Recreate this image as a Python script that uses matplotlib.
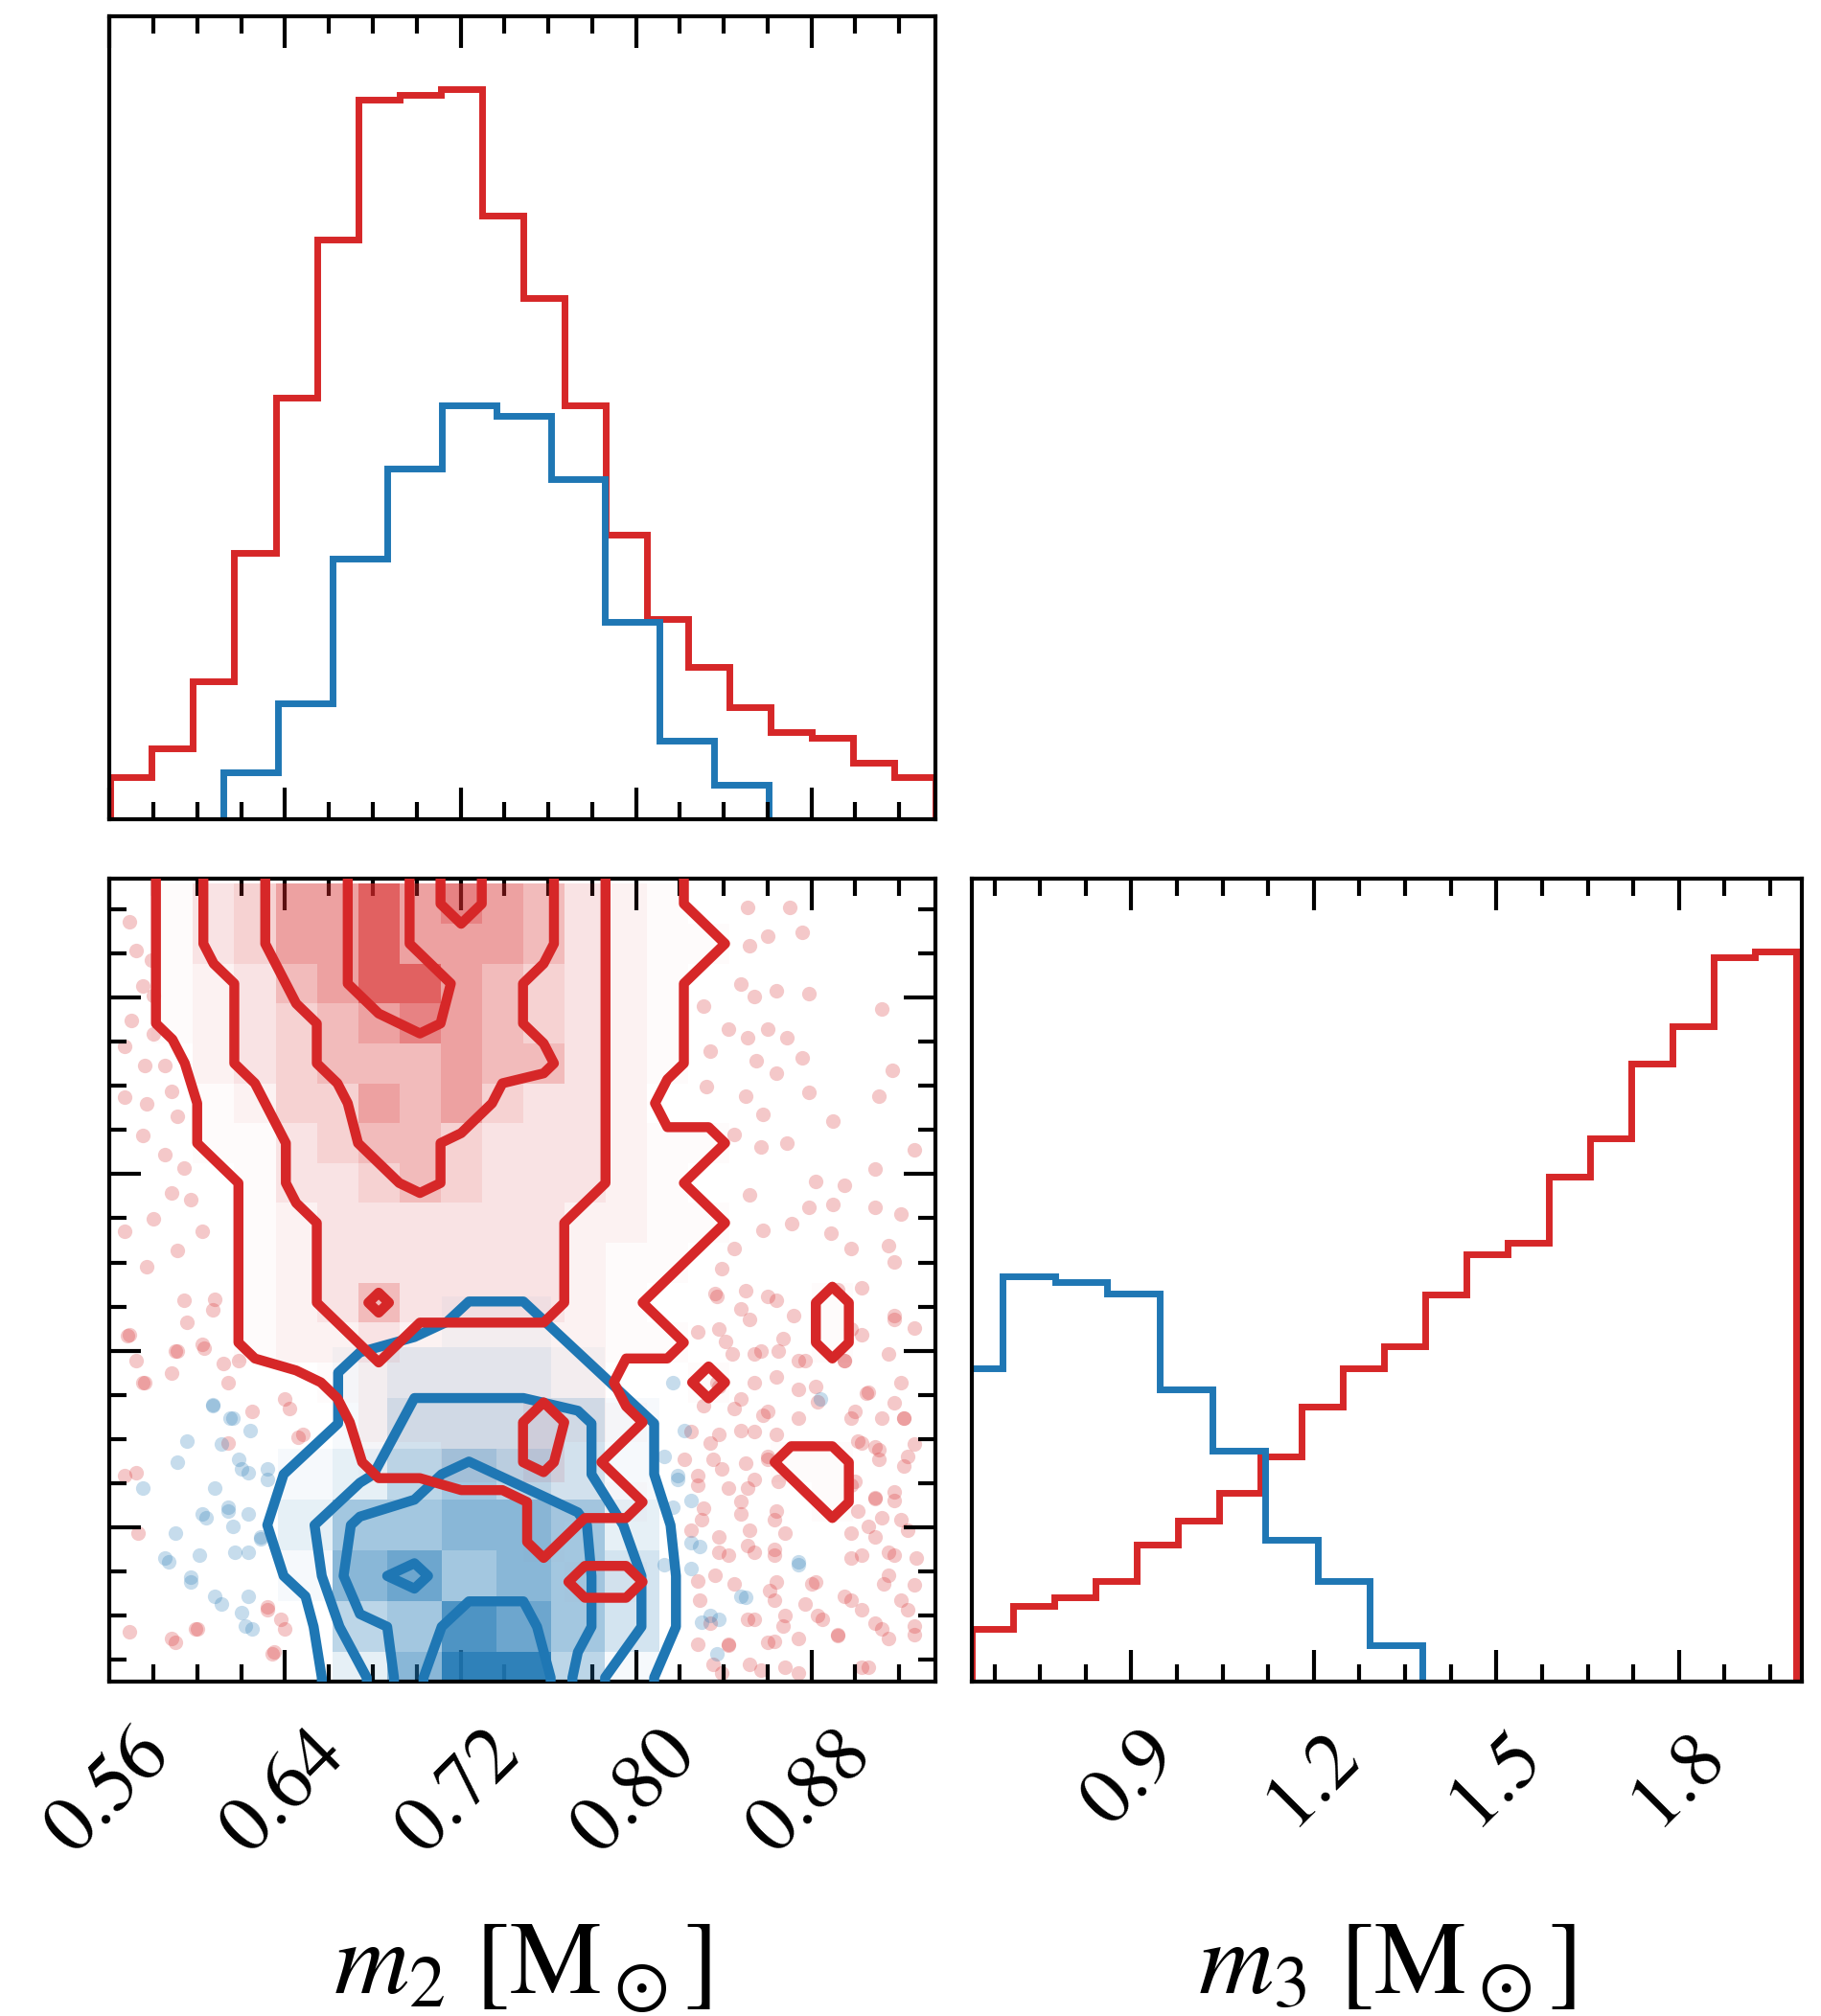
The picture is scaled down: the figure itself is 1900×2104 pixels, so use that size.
import numpy as np
import matplotlib
matplotlib.use("Agg")
import matplotlib.pyplot as plt
from matplotlib.colors import LinearSegmentedColormap, PowerNorm, to_rgb
from matplotlib.ticker import MultipleLocator, FormatStrFormatter

plt.rcParams["font.family"] = ["STIXGeneral", "DejaVu Serif"]
plt.rcParams["mathtext.fontset"] = "stix"

RED = "#d62728"
BLUE = "#1f77b4"

# axis ranges
m2_lim = (0.5598, 0.9366)
m3_lim = (0.638, 2.002)

# 1D marginals (step histograms)
m2_red_edges = np.linspace(0.5604, 0.9366, 21)
m2_red_counts = [80, 135, 262, 505, 800, 1100, 1365, 1375, 1385, 1145,
                 990, 785, 540, 380, 290, 212, 165, 155, 108, 80]
m2_blue_edges = np.linspace(0.612, 0.8605, 11)
m2_blue_counts = [90, 220, 495, 665, 785, 765, 645, 375, 150, 65]

m3_red_edges = np.linspace(0.638, 1.993, 21)
m3_red_counts = [100, 145, 160, 192, 262, 307, 360, 430, 525, 598,
                 640, 738, 815, 838, 963, 1037, 1180, 1250, 1383, 1393]
m3_blue_edges = np.linspace(0.6016, 1.3786, 10)
m3_blue_counts = [598, 773, 763, 740, 557, 440, 270, 192, 70]

# 2D histograms (rows listed from highest m3 bin down to lowest)
red_grid_rows = [
    "01346686765321000000",
    "01346686665321100000",
    "01235688654321000000",
    "01234567654321000000",
    "00234555655321000000",
    "00124465643320000000",
    "00113455433321100000",
    "00013345433321000000",
    "00012333333221100000",
    "00012333333211000000",
    "00012353333210000100",
    "00012232222211000100",
    "00000122222200100000",
    "00000022223210000000",
    "00000011223100001100",
    "00000000001110000100",
    "00000000001000000000",
    "00000000000110000000",
    "00000000000000000000",
    "00000000000000000000",
]
blue_grid_rows = [
    "0000000000",
    "0000110000",
    "0012221000",
    "0013333100",
    "0124543100",
    "0255665200",
    "0167565300",
    "0045875300",
    "0026994100",
]
contour_levels = [0.6, 2.5, 4.5, 6.5]

# individual samples outside the contours, (m2, m3)
red_samples = [
    # upper right
    (0.851, 1.953), (0.870, 1.953), (0.860, 1.904), (0.876, 1.910),
    (0.852, 1.888), (0.848, 1.823), (0.854, 1.801), (0.864, 1.812),
    (0.879, 1.807), (0.912, 1.780), (0.831, 1.785), (0.842, 1.747),
    (0.851, 1.731), (0.860, 1.747), (0.869, 1.731), (0.834, 1.709),
    (0.855, 1.693), (0.876, 1.698), (0.917, 1.676), (0.864, 1.671),
    (0.832, 1.649), (0.850, 1.633), (0.911, 1.633), (0.879, 1.639),
    (0.858, 1.601), (0.890, 1.590), (0.845, 1.568), (0.857, 1.546),
    (0.869, 1.552), (0.927, 1.541), (0.909, 1.508), (0.882, 1.487),
    (0.895, 1.481), (0.852, 1.465), (0.879, 1.443), (0.890, 1.449),
    (0.909, 1.443), (0.921, 1.432), (0.858, 1.405), (0.871, 1.416),
    (0.889, 1.400), (0.915, 1.378), (0.845, 1.373), (0.898, 1.373),
    (0.918, 1.351), (0.839, 1.340),
    # lower right
    (0.837, 1.292), (0.848, 1.271), (0.860, 1.292), (0.872, 1.260),
    (0.903, 1.227), (0.918, 1.260), (0.927, 1.239), (0.828, 1.232),
    (0.841, 1.216), (0.854, 1.195), (0.865, 1.200), (0.877, 1.183),
    (0.895, 1.183), (0.906, 1.130), (0.921, 1.146), (0.837, 1.146),
    (0.848, 1.118), (0.860, 1.097), (0.874, 1.134), (0.883, 1.113),
    (0.900, 1.097), (0.912, 1.086), (0.922, 1.086), (0.834, 1.043),
    (0.848, 1.064), (0.860, 1.020), (0.903, 1.043), (0.911, 1.032),
    (0.924, 1.020), (0.828, 0.988), (0.839, 0.999), (0.851, 0.967),
    (0.865, 0.978), (0.900, 0.978), (0.909, 0.951), (0.918, 0.946),
    (0.830, 0.913), (0.848, 0.923), (0.863, 0.913), (0.906, 0.902),
    (0.921, 0.913), (0.838, 0.858), (0.851, 0.869), (0.863, 0.853),
    (0.898, 0.848), (0.915, 0.858), (0.928, 0.848), (0.828, 0.809),
    (0.845, 0.804), (0.861, 0.793), (0.880, 0.804), (0.895, 0.783),
    (0.913, 0.804), (0.851, 0.744), (0.868, 0.750), (0.883, 0.750),
    (0.903, 0.760), (0.924, 0.760), (0.828, 0.701), (0.842, 0.701),
    (0.863, 0.706), (0.892, 0.718), (0.912, 0.728), (0.927, 0.718),
    (0.839, 0.653), (0.857, 0.658), (0.874, 0.653), (0.906, 0.662),
    (0.892, 1.304),
    (0.836, 1.297), (0.850, 1.302), (0.864, 1.286), (0.903, 1.307),
    (0.918, 1.253), (0.838, 1.237), (0.852, 1.253), (0.867, 1.221),
    (0.898, 1.237), (0.844, 1.194), (0.857, 1.199), (0.874, 1.183),
    (0.895, 1.183), (0.915, 1.194), (0.838, 1.139), (0.854, 1.145),
    (0.864, 1.156), (0.882, 1.139), (0.905, 1.128), (0.918, 1.112),
    (0.831, 1.107), (0.845, 1.101), (0.858, 1.091), (0.874, 1.085),
    (0.898, 1.085), (0.922, 1.085), (0.825, 1.063), (0.838, 1.058),
    (0.854, 1.063), (0.864, 1.058), (0.901, 1.047), (0.909, 1.036),
    (0.927, 1.042), (0.822, 1.015), (0.835, 1.015), (0.850, 1.009),
    (0.860, 1.015), (0.911, 1.015), (0.922, 1.004), (0.828, 0.971),
    (0.842, 0.966), (0.854, 0.982), (0.898, 0.971), (0.909, 0.949),
    (0.918, 0.960), (0.831, 0.933), (0.848, 0.944), (0.864, 0.928),
    (0.901, 0.928), (0.912, 0.917), (0.825, 0.895), (0.838, 0.884),
    (0.852, 0.895), (0.868, 0.890), (0.898, 0.890), (0.909, 0.884),
    (0.924, 0.895), (0.842, 0.852), (0.854, 0.857), (0.863, 0.863),
    (0.903, 0.852), (0.918, 0.852), (0.836, 0.819), (0.864, 0.808),
    (0.882, 0.808), (0.915, 0.819), (0.927, 0.803), (0.829, 0.776),
    (0.863, 0.776), (0.877, 0.770), (0.898, 0.776), (0.921, 0.776),
    (0.834, 0.738), (0.854, 0.743), (0.867, 0.732), (0.885, 0.743),
    (0.909, 0.738), (0.927, 0.732), (0.842, 0.700), (0.860, 0.705),
    (0.874, 0.711), (0.892, 0.716), (0.915, 0.711), (0.835, 0.667),
    (0.852, 0.667), (0.868, 0.662), (0.903, 0.662),
    # upper left
    (0.569, 1.929), (0.572, 1.880), (0.579, 1.864), (0.575, 1.820),
    (0.580, 1.803), (0.570, 1.761), (0.567, 1.717), (0.580, 1.738),
    (0.576, 1.685), (0.585, 1.685), (0.567, 1.631), (0.577, 1.620),
    (0.588, 1.641), (0.591, 1.598), (0.575, 1.566), (0.585, 1.533),
    (0.594, 1.510), (0.588, 1.468), (0.597, 1.457), (0.580, 1.424),
    (0.591, 1.370), (0.602, 1.403), (0.577, 1.343), (0.567, 1.403),
    # lower left
    (0.569, 1.227), (0.572, 1.183), (0.591, 1.200), (0.602, 1.211),
    (0.576, 1.146), (0.588, 1.162), (0.612, 1.178), (0.614, 1.146),
    (0.625, 1.097), (0.640, 1.118), (0.646, 1.053), (0.614, 1.043),
    (0.567, 0.988), (0.632, 0.760), (0.634, 0.685), (0.599, 0.728),
    (0.588, 0.711), (0.640, 0.728), (0.573, 0.890), (0.595, 1.248),
    (0.608, 1.287),
    (0.568, 1.226), (0.590, 1.199), (0.603, 1.205), (0.619, 1.183),
    (0.575, 1.145), (0.642, 1.101), (0.648, 1.058), (0.632, 0.765),
    (0.638, 0.743), (0.600, 0.727), (0.590, 0.705), (0.635, 0.689),
    (0.569, 0.722), (0.594, 1.286), (0.607, 1.270), (0.572, 0.993),
]
blue_samples = [
    (0.615, 1.086), (0.607, 1.108), (0.624, 1.064), (0.632, 0.999),
    (0.620, 0.999), (0.602, 0.923), (0.614, 0.934), (0.623, 0.923),
    (0.629, 0.881), (0.585, 0.848), (0.597, 0.815), (0.617, 0.858),
    (0.623, 0.783), (0.608, 0.783), (0.625, 0.728), (0.620, 0.755),
    (0.575, 0.967), (0.591, 1.011), (0.813, 1.020), (0.830, 0.739),
    (0.848, 0.783), (0.825, 0.946), (0.837, 0.685), (0.874, 0.837),
    (0.813, 0.837), (0.817, 1.146), (0.822, 1.064), (0.819, 0.988),
    (0.817, 0.934), (0.825, 0.874), (0.834, 0.750),
    (0.607, 1.107), (0.616, 1.085), (0.611, 1.042), (0.623, 0.993),
    (0.632, 0.982), (0.619, 1.015), (0.604, 0.917), (0.614, 0.928),
    (0.616, 0.901), (0.623, 0.857), (0.587, 0.841), (0.597, 0.808),
    (0.629, 0.884), (0.622, 0.732), (0.611, 0.770), (0.608, 0.966),
    (0.595, 1.047), (0.590, 0.890), (0.601, 0.852),
    (0.829, 0.868), (0.825, 0.830), (0.850, 0.781), (0.874, 0.841),
    (0.838, 0.743), (0.884, 1.118), (0.819, 0.982),
]


def grid_from_rows(rows):
    return np.array([[int(c) for c in r] for r in rows], dtype=float)[::-1]


def padded_centers(edges):
    c = 0.5 * (edges[1:] + edges[:-1])
    d = edges[1] - edges[0]
    return np.concatenate([[c[0] - d], c, [c[-1] + d]])


def alpha_cmap(color):
    rgb = to_rgb(color)
    return LinearSegmentedColormap.from_list(color, [(*rgb, 0.0), (*rgb, 1.0)])


def style_axes(ax, yticks):
    for s in ax.spines.values():
        s.set_linewidth(3)
    ax.tick_params(which="both", direction="in", top=True, bottom=True,
                   left=yticks, right=yticks, width=3, labelsize=60, pad=28)
    ax.tick_params(which="major", length=24)
    ax.tick_params(which="minor", length=13)
    if not yticks:
        ax.set_yticks([])


fig = plt.figure(figsize=(19, 21.04), dpi=100)
ax_top = fig.add_axes([0.0600, 0.5936, 0.4537, 0.3983])
ax_2d = fig.add_axes([0.0600, 0.1659, 0.4537, 0.3983])
ax_m3 = fig.add_axes([0.5337, 0.1659, 0.4558, 0.3983])

# m2 marginal
ax_top.stairs(m2_red_counts, m2_red_edges, color=RED, lw=5)
ax_top.stairs(m2_blue_counts, m2_blue_edges, color=BLUE, lw=5)
ax_top.set_xlim(*m2_lim)
ax_top.set_ylim(0, 1.1 * max(m2_red_counts))
ax_top.xaxis.set_major_locator(MultipleLocator(0.08))
ax_top.xaxis.set_minor_locator(MultipleLocator(0.02))
style_axes(ax_top, False)
ax_top.set_xticklabels([])

# m3 marginal
ax_m3.stairs(m3_red_counts, m3_red_edges, color=RED, lw=5)
ax_m3.stairs(m3_blue_counts, m3_blue_edges, color=BLUE, lw=5)
ax_m3.set_xlim(*m3_lim)
ax_m3.set_ylim(0, 1.1 * max(m3_red_counts))
ax_m3.xaxis.set_major_locator(MultipleLocator(0.3))
ax_m3.xaxis.set_minor_locator(MultipleLocator(0.075))
ax_m3.xaxis.set_major_formatter(FormatStrFormatter("%.1f"))
style_axes(ax_m3, False)
ax_m3.tick_params(axis="x", labelrotation=45)
ax_m3.set_xlabel(r"$m_3\ [\mathrm{M}_\odot]$", fontsize=78)
ax_m3.xaxis.set_label_coords(0.5, -0.3)

# joint panel
H_red = grid_from_rows(red_grid_rows)
H_blue = grid_from_rows(blue_grid_rows)

rx, ry = zip(*red_samples)
bx, by = zip(*blue_samples)
ax_2d.scatter(rx, ry, s=120, color=RED, alpha=0.25, lw=0, zorder=1)
ax_2d.scatter(bx, by, s=120, color=BLUE, alpha=0.25, lw=0, zorder=1)

ax_2d.pcolormesh(m2_red_edges, m3_red_edges, H_red, cmap=alpha_cmap(RED),
                 norm=PowerNorm(gamma=1.8, vmin=0, vmax=9.5), zorder=2)
ax_2d.pcolormesh(m2_blue_edges, m3_blue_edges, H_blue, cmap=alpha_cmap(BLUE),
                 norm=PowerNorm(gamma=1.4, vmin=0, vmax=9.5), zorder=2.5)

ax_2d.contour(padded_centers(m2_blue_edges), padded_centers(m3_blue_edges),
              np.pad(H_blue, 1, mode="edge"), levels=contour_levels,
              colors=BLUE, linewidths=7.5, zorder=3)
ax_2d.contour(padded_centers(m2_red_edges), padded_centers(m3_red_edges),
              np.pad(H_red, 1, mode="edge"), levels=contour_levels,
              colors=RED, linewidths=7.5, zorder=4)

ax_2d.set_xlim(*m2_lim)
ax_2d.set_ylim(*m3_lim)
ax_2d.xaxis.set_major_locator(MultipleLocator(0.08))
ax_2d.xaxis.set_minor_locator(MultipleLocator(0.02))
ax_2d.xaxis.set_major_formatter(FormatStrFormatter("%.2f"))
ax_2d.yaxis.set_major_locator(MultipleLocator(0.3))
ax_2d.yaxis.set_minor_locator(MultipleLocator(0.075))
style_axes(ax_2d, True)
ax_2d.set_yticklabels([])
ax_2d.tick_params(axis="x", labelrotation=45)
ax_2d.set_xlabel(r"$m_2\ [\mathrm{M}_\odot]$", fontsize=78)
ax_2d.xaxis.set_label_coords(0.5, -0.3)

fig.savefig("out.png", dpi=100, facecolor="white")
